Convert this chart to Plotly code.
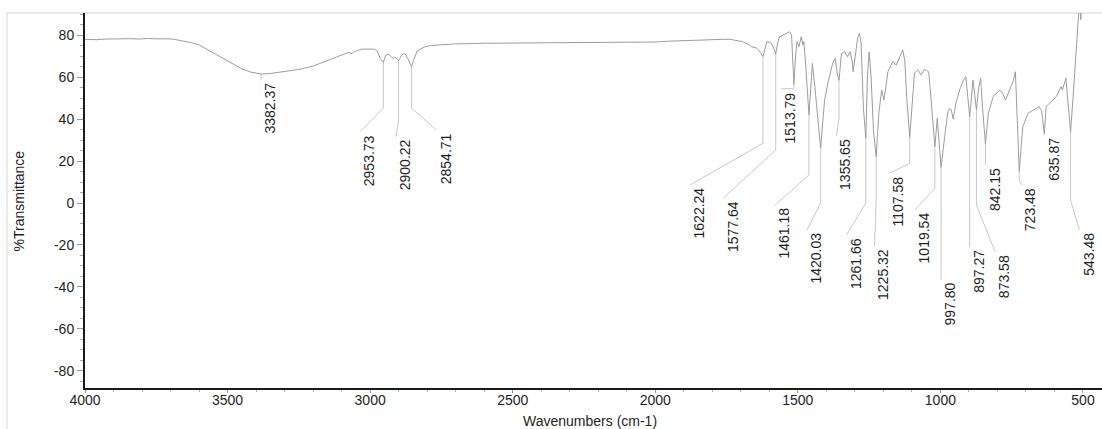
import plotly.graph_objects as go

# ---- spectrum (wavenumber in cm-1, %T) ----
wavenumber = [
    4000, 3960, 3930, 3900, 3870, 3840, 3810, 3780, 3750, 3720, 3700, 3685,
    3660, 3630, 3600, 3560, 3520, 3480, 3450, 3420, 3382.37, 3350, 3300, 3250,
    3200, 3150, 3100, 3075, 3066, 3055, 3030, 3000, 2985, 2975, 2965, 2953.73,
    2945, 2935, 2920, 2910, 2900.22, 2890, 2879, 2870, 2860, 2854.71, 2848,
    2835, 2810, 2790, 2750, 2700, 2600, 2500, 2400, 2300, 2200, 2100, 2000,
    1950, 1900, 1850, 1800, 1760, 1739, 1710, 1694, 1675, 1663, 1645, 1635,
    1622.24, 1615, 1609, 1595, 1585, 1577.64, 1570, 1564, 1545, 1529, 1522,
    1513.79, 1508, 1503, 1496, 1488, 1482, 1479, 1472, 1461.18, 1452, 1449,
    1440, 1430, 1420.03, 1412, 1406, 1395, 1385, 1378, 1369, 1362, 1355.65,
    1350, 1347, 1336, 1326, 1317, 1310, 1306, 1298, 1290, 1284, 1278, 1270,
    1261.66, 1256, 1250, 1243, 1235, 1225.32, 1216, 1206, 1198, 1184, 1167,
    1155, 1141, 1132, 1125, 1118, 1107.58, 1098, 1091, 1079, 1067, 1056, 1041,
    1033, 1019.54, 1011, 1005, 997.80, 990, 985, 974, 968, 962, 955, 945, 930,
    918, 911, 905, 897.27, 890, 886, 880, 873.58, 866, 859, 852, 842.15, 832,
    815, 792, 780, 772, 757, 745, 737, 732, 723.48, 715, 711, 693, 664, 654,
    645, 635.87, 629, 610, 594, 577, 572, 560, 552, 543.48, 535, 527, 519, 514,
    510, 508, 505, 490, 433,
]
transmittance = [
    78.1, 77.9, 78.2, 78.3, 78.1, 78.4, 78.2, 78.5, 78.3, 78.5, 78.3, 78.0,
    77.4, 76.6, 75.4, 72.4, 69.0, 66.0, 64.0, 62.5, 61.5, 61.8, 62.8, 63.7,
    65.3, 67.8, 70.3, 71.9, 71.2, 72.2, 73.4, 73.5, 73.4, 72.5, 69.0, 67.1,
    70.5, 71.0, 69.0, 69.5, 67.9, 70.5, 71.4, 69.5, 66.0, 65.0, 68.0,
    72.6, 74.4, 75.1, 75.5, 75.9, 76.2, 76.3, 76.3, 76.4, 76.5, 76.6, 76.8,
    77.2, 77.5, 77.8, 78.0, 78.1, 78.1, 77.6, 77.0, 75.8, 74.6, 73.9, 72.5,
    69.8, 74.0, 77.0, 76.5, 74.0, 71.1, 77.0, 79.3, 80.8, 81.7, 80.0,
    56.5, 70.0, 77.0, 74.6, 79.3, 75.4, 77.0, 65.0, 42.0, 60.0, 66.6,
    55.0, 40.0, 26.1, 40.0, 49.0, 57.1, 63.0, 66.6, 69.0, 62.0, 58.5,
    66.0, 71.4, 72.2, 69.8, 72.2, 68.0, 62.6, 72.0, 79.0, 81.0, 76.0, 45.0,
    31.0, 60.0, 72.0, 60.0, 35.0, 22.1, 42.8, 53.9, 49.1, 62.6, 67.4,
    65.8, 70.6, 73.0, 68.0, 50.0, 31.3, 50.0, 61.9, 63.5, 61.1, 63.8, 62.6,
    50.0, 26.9, 40.4, 30.0, 17.0, 26.0, 31.6, 43.6, 45.0, 44.5, 40.0, 48.0, 55.0,
    59.0, 60.3, 52.0, 41.2, 52.0, 58.7, 52.0, 44.4, 55.0, 59.5, 45.0, 28.2, 42.8,
    50.7, 53.9, 52.0, 49.1, 53.9, 58.0, 62.6, 45.0, 15.0, 30.0, 36.4, 42.8, 45.2, 46.0,
    44.0, 33.2, 46.0, 48.5, 50.7, 55.5, 53.9, 59.5, 48.0, 34.0, 50.0, 65.0, 81.0, 93.0,
    92.0, 87.5, 95.0, 100.0, 100.0,
]

# ---- axis ticks ----
x_ticks = [4000, 3500, 3000, 2500, 2000, 1500, 1000, 500]
y_ticks = [-80, -60, -40, -20, 0, 20, 40, 60, 80]

# ---- picked peaks ----
peak_wn = [3382.37, 2953.73, 2900.22, 2854.71, 1622.24, 1577.64, 1513.79,
           1461.18, 1420.03, 1355.65, 1261.66, 1225.32, 1107.58, 1019.54,
           997.80, 897.27, 873.58, 842.15, 723.48, 635.87, 543.48]

# leader geometry for each peak label: vertical drop to elbow_T, then a
# straight segment to (end_wn, end_T) where the label text begins
elbow_T = [58.7, 45.2, 39.6, 45.2, 28.5, 25.3, 54.7, 13.4, -0.1, 40.6, 0.0,
           1.4, 18.9, 7.0, -36.7, -20.8, -1.0, 18.1, 11.0, 32.4, 1.4]
end_wn = [3382.37, 3035.6, 2909.3, 2766.6, 1878.2, 1761.5, 1559.1, 1580.1,
          1467.9, 1364.4, 1329.4, 1231.2, 1179.3, 1089.1, 997.80, 897.27,
          808.6, 842.15, 714.9, 635.87, 512.9]
end_T = [58.7, 34.0, 31.6, 34.8, 8.6, 2.3, 54.4, -1.0, -12.9, 32.0, -15.3,
         -20.5, 14.2, -3.3, -36.7, -20.8, -23.2, 18.1, 8.6, 32.4, -12.9]

FONT = "Liberation Sans, Arial, Helvetica, sans-serif"
INK = "#1e1e1e"
spec_T = dict(zip(wavenumber, transmittance))

fig = go.Figure()

# leader lines
lx, ly = [], []
for wn, eT, xw, xT in zip(peak_wn, elbow_T, end_wn, end_T):
    lx += [wn, wn, xw, None]
    ly += [spec_T[wn], eT, xT, None]
fig.add_trace(go.Scatter(x=lx, y=ly, mode="lines",
                         line=dict(color="#c8c8c8", width=1),
                         hoverinfo="skip", showlegend=False))

# spectrum
fig.add_trace(go.Scatter(x=wavenumber, y=transmittance, mode="lines",
                         line=dict(color="#9c9c9c", width=1),
                         showlegend=False))

# peak labels
for wn, xw, xT in zip(peak_wn, end_wn, end_T):
    fig.add_annotation(x=xw, y=xT, xref="x", yref="y",
                       text=f"{wn:.2f}", textangle=-90, showarrow=False,
                       xanchor="left", yanchor="top", yshift=-2, borderpad=0,
                       font=dict(family=FONT, size=14, color=INK))

# axis titles
fig.add_annotation(x=-0.0649, y=0.5, xref="paper", yref="paper",
                   text="%Transmittance", textangle=-90, showarrow=False,
                   xanchor="center", yanchor="middle",
                   font=dict(family=FONT, size=14, color=INK))
fig.add_annotation(x=0.4966, y=0, xref="paper", yref="paper", yshift=-33,
                   text="Wavenumbers (cm-1)", showarrow=False,
                   xanchor="center", yanchor="middle",
                   font=dict(family=FONT, size=14, color=INK))

# light outer frame
fig.add_shape(type="path", xref="paper", yref="paper",
              path="M -0.0767 -0.2 L -0.0767 1 L 1.2 1",
              line=dict(color="#d4d4d4", width=1), layer="below")

fig.update_layout(
    width=1102, height=429,
    margin=dict(l=85, r=0, t=13, b=41),
    paper_bgcolor="white", plot_bgcolor="white",
    font=dict(family=FONT, size=14, color=INK),
    hovermode=False,
)
fig.update_xaxes(
    range=[4000, 433.3], tickvals=x_ticks, ticktext=[str(v) for v in x_ticks],
    showgrid=False, zeroline=False, showline=True, linecolor="#1a1a1a",
    linewidth=2, ticks="outside", ticklen=3, tickcolor="#9a9a9a",
    minor=dict(dtick=100, ticks="outside", ticklen=2, tickcolor="#b0b0b0"),
    tickfont=dict(size=14, color=INK), ticklabelstandoff=-5,
)
fig.update_yaxes(
    range=[-88.25, 90.64], tickvals=y_ticks, ticktext=[str(v) for v in y_ticks],
    showgrid=False, zeroline=False, showline=True, linecolor="#1a1a1a",
    linewidth=2, ticks="outside", ticklen=6, tickcolor="#9a9a9a",
    minor=dict(dtick=5, ticks="outside", ticklen=3, tickcolor="#b0b0b0"),
    tickfont=dict(size=14, color=INK), ticklabelstandoff=0,
)

fig.write_html("out.html", config={"displayModeBar": False})
